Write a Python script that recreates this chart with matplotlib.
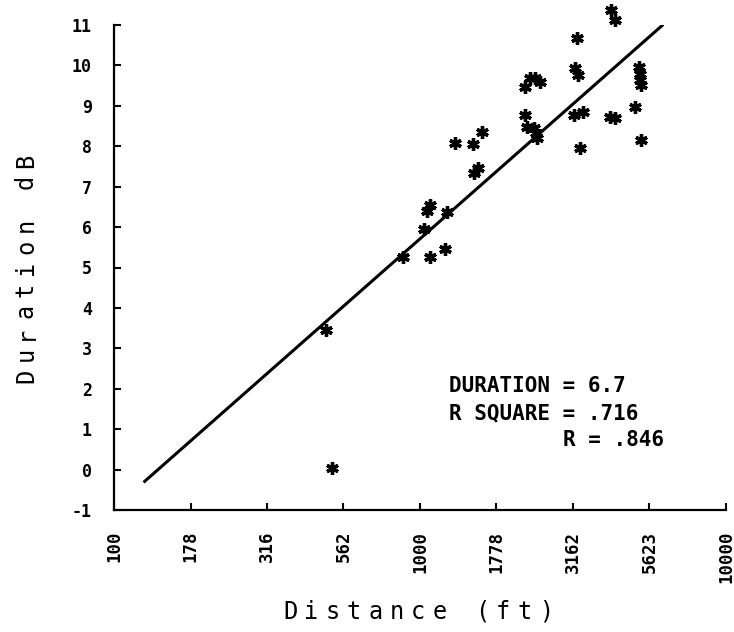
import numpy as np
import matplotlib
matplotlib.use('Agg')
import matplotlib.pyplot as plt
from matplotlib.ticker import FixedLocator, NullLocator

# data
distance_ft = [493, 515, 880, 1079, 1208, 1030, 1055, 1079, 1225,
               1301, 1489, 1595, 1505, 1545,
               2203, 2290, 2380, 2466, 2203, 2238, 2359, 2412, 2390,
               3261, 3211, 3284, 3186, 3410, 3334,
               4209, 4339, 4179, 4339, 5043, 5200, 5236, 5236, 5275, 5275]
duration_db = [3.45, 0.05, 5.26, 5.26, 5.46, 5.95, 6.40, 6.55, 6.37,
               8.08, 8.05, 8.35, 7.35, 7.45,
               9.46, 9.68, 9.68, 9.59, 8.77, 8.48, 8.45, 8.20, 8.33,
               10.68, 9.94, 9.76, 8.77, 8.85, 7.95,
               11.37, 11.12, 8.72, 8.70, 8.97, 9.96, 9.79, 9.64, 9.52, 8.15]

# regression line (dB per decade of distance)
slope = 6.67
intercept = -0.96   # value at 100 ft
line_x = [126, 6180]

x_ticks = [100, 178, 316, 562, 1000, 1778, 3162, 5623, 10000]
x_ticklabels = ['100', '178', '316', '562', '1000', '1778', '3162', '5623', '10000']
y_ticks = list(range(-1, 12))

stats_lines = ['DURATION = 6.7', 'R SQUARE = .716', 'R = .846']

W, H = 734, 632
fig = plt.figure(figsize=(W / 100, H / 100), dpi=100)
ax = fig.add_axes([114 / W, 122 / H, 612 / W, 485 / H])

ax.set_xscale('log')
ax.set_xlim(100, 10000)
ax.set_ylim(-1, 11)

lx = np.array(line_x, dtype=float)
ax.plot(lx, slope * (np.log10(lx) - 2) + intercept, color='black', lw=2.2)
ax.plot(distance_ft, duration_db, linestyle='none', marker=(6, 2, 0),
        markersize=9, mew=2.4, color='black', clip_on=False)

ax.spines['top'].set_visible(False)
ax.spines['right'].set_visible(False)
ax.spines['left'].set_linewidth(1.6)
ax.spines['bottom'].set_linewidth(1.6)

ax.xaxis.set_major_locator(FixedLocator(x_ticks))
ax.xaxis.set_minor_locator(NullLocator())
ax.set_xticklabels(x_ticklabels, rotation=90, family='DejaVu Sans Mono',
                   fontweight='bold', fontsize=12.5)
ax.set_yticks(y_ticks)
ax.set_yticklabels([str(v) for v in y_ticks], family='DejaVu Sans Mono',
                   fontweight='bold', fontsize=12)
ax.tick_params(axis='x', direction='in', length=5, width=1.5, pad=15)
ax.tick_params(axis='y', direction='in', length=5, width=1.5, pad=16)

# statistics block
ax.text(1245, 2.06, stats_lines[0], ha='left', va='center',
        family='DejaVu Sans Mono', fontweight='bold', fontsize=15)
ax.text(1245, 1.40, stats_lines[1], ha='left', va='center',
        family='DejaVu Sans Mono', fontweight='bold', fontsize=15)
ax.text(6270, 0.73, stats_lines[2], ha='right', va='center',
        family='DejaVu Sans Mono', fontweight='bold', fontsize=15)


def spaced_label(s, cx, cy, step, vertical=False):
    # old plotter labels have wide letter spacing, place glyph by glyph
    n = len(s)
    for i, ch in enumerate(s):
        off = (i - (n - 1) / 2) * step
        if vertical:
            fig.text(cx / W, 1 - (cy - off) / H, ch, rotation=90,
                     ha='center', va='center', family='DejaVu Sans Mono',
                     fontsize=17)
        else:
            fig.text((cx + off) / W, 1 - cy / H, ch, ha='center', va='center',
                     family='DejaVu Sans Mono', fontsize=17)


spaced_label('Distance (ft)', 418, 612, 21.3)
spaced_label('Duration dB', 26, 268, 21.5, vertical=True)

fig.savefig('out.png', dpi=100)
